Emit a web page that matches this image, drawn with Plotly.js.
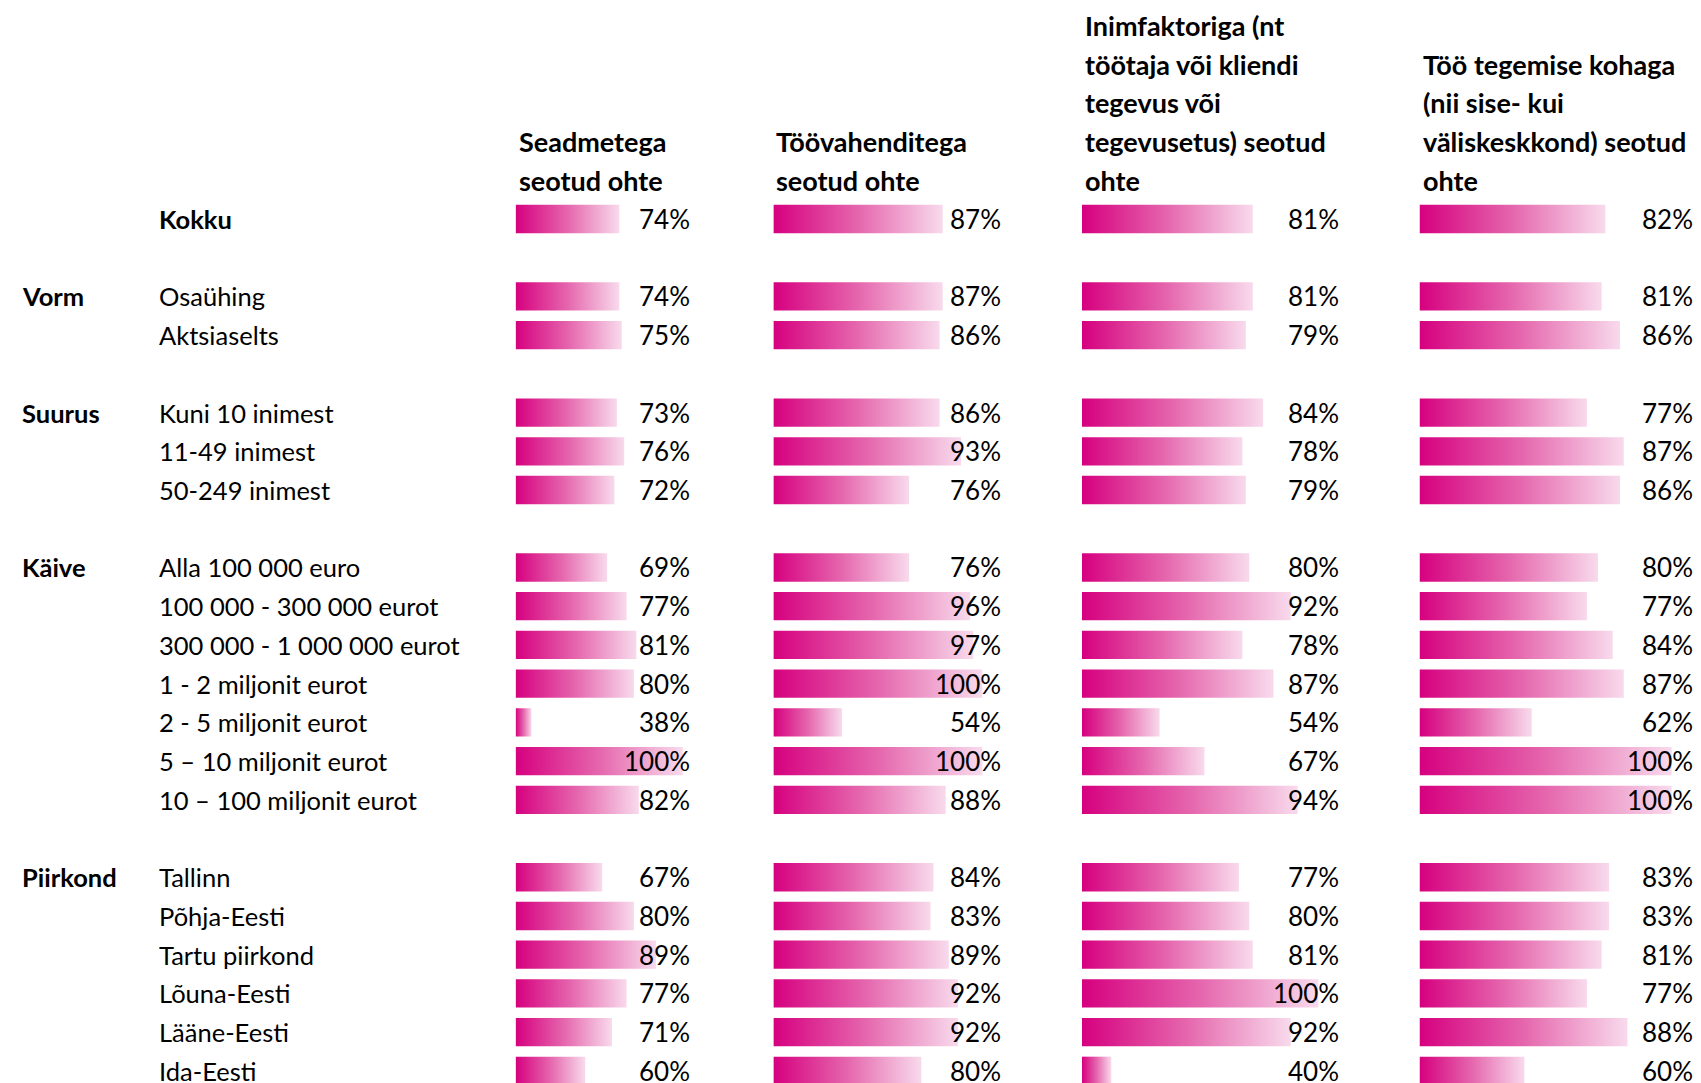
<!DOCTYPE html>
<html>
<head>
<meta charset="utf-8">
<script src="https://cdn.plot.ly/plotly-3.0.1.min.js"></script>
<style>
html,body{margin:0;padding:0;background:#ffffff;}
#chart{width:1701px;height:1083px;}
</style>
</head>
<body>
<div id="chart"></div>
<script>
// ---------------- data ----------------
const groupNames = ['', 'Vorm', 'Suurus', 'Käive', 'Piirkond'];
const groupSizes = [1, 2, 3, 7, 6];
const categories = [
  'Kokku',
  'Osaühing', 'Aktsiaselts',
  'Kuni 10 inimest', '11-49 inimest', '50-249 inimest',
  'Alla 100 000 euro', '100 000 - 300 000 eurot', '300 000 - 1 000 000 eurot',
  '1 - 2 miljonit eurot', '2 - 5 miljonit eurot', '5 – 10 miljonit eurot', '10 – 100 miljonit eurot',
  'Tallinn', 'Põhja-Eesti', 'Tartu piirkond', 'Lõuna-Eesti', 'Lääne-Eesti', 'Ida-Eesti'
];
const seadmetega     = [74, 74, 75, 73, 76, 72, 69, 77, 81, 80, 38, 100, 82, 67, 80, 89, 77, 71, 60];
const toovahenditega = [87, 87, 86, 86, 93, 76, 76, 96, 97, 100, 54, 100, 88, 84, 83, 89, 92, 92, 80];
const inimfaktoriga  = [81, 81, 79, 84, 78, 79, 80, 92, 78, 87, 54, 67, 94, 77, 80, 81, 100, 92, 40];
const tookohaga      = [82, 81, 86, 77, 87, 86, 80, 77, 84, 87, 62, 100, 100, 83, 83, 81, 77, 88, 60];
const headers = [
  'Seadmetega<br>seotud ohte',
  'Töövahenditega<br>seotud ohte',
  'Inimfaktoriga (nt<br>töötaja või kliendi<br>tegevus või<br>tegevusetus) seotud<br>ohte',
  'Töö tegemise kohaga<br>(nii sise- kui<br>väliskeskkond) seotud<br>ohte'
];

// ---------------- layout constants ----------------
const W = 1701, H = 1083;
const ROW0_PX = 219, ROW_PX = 38.72;
const BASE = 31.5, XMAX = 108;
const colStartPx = [515.6, 773.4, 1082, 1419.5];
const colSlope   = [2.44, 3.05, 3.45, 3.68];
const pctRightPx = [692, 1003, 1341, 1695];
const headerOffsetPx = 1;
const groupLabelPx = 19.5, catLabelPx = 157;
const BAR_HALF = 0.366;
const FONT = 'Lato, "Open Sans", sans-serif';
const FS = 25.5, FS_PCT = 26, FS_HEAD = 27;
const gradient = [[0, '#D6007F'], [0.5, '#E566AD'], [1, '#F8DAEC']];

const series = [seadmetega, toovahenditega, inimfaktoriga, tookohaga];

// row positions: one blank row between groups
const rowPos = [];
const groupRow = [];
let r = 0;
groupSizes.forEach(n => {
  groupRow.push(r);
  for (let k = 0; k < n; k++) { rowPos.push(r); r++; }
  r++;
});

const traces = [];
const annotations = [];
const layout = {
  width: W, height: H,
  margin: {l: 0, r: 0, t: 0, b: 0, pad: 0},
  paper_bgcolor: '#ffffff', plot_bgcolor: '#ffffff',
  showlegend: false,
  font: {family: FONT, size: FS, color: '#000000'},
  yaxis: {range: [(H - ROW0_PX) / ROW_PX, -ROW0_PX / ROW_PX], domain: [0, 1], visible: false, fixedrange: true}
};

series.forEach((vals, c) => {
  const axName = c === 0 ? 'xaxis' : 'xaxis' + (c + 1);
  const xa = c === 0 ? 'x' : 'x' + (c + 1);
  const d0 = colStartPx[c] / W;
  const d1 = (colStartPx[c] + colSlope[c] * (XMAX - BASE)) / W;
  const top = Math.min(d1, 1);
  const xmax = BASE + (top * W - colStartPx[c]) / colSlope[c];
  layout[axName] = {domain: [d0, top], range: [BASE, xmax], visible: false, anchor: 'y', fixedrange: true};

  vals.forEach((v, i) => {
    const y0 = rowPos[i] - BAR_HALF, y1 = rowPos[i] + BAR_HALF;
    traces.push({
      type: 'scatter', xaxis: xa, yaxis: 'y',
      x: [BASE, v, v, BASE, BASE],
      y: [y0, y0, y1, y1, y0],
      mode: 'none', fill: 'toself',
      fillcolor: '#E566AD',
      fillgradient: {type: 'horizontal', colorscale: gradient},
      hoverinfo: 'skip', showlegend: false
    });
    annotations.push({
      xref: 'paper', yref: 'y', x: pctRightPx[c] / W, y: rowPos[i],
      xanchor: 'right', yanchor: 'middle', showarrow: false,
      text: v + '%', font: {family: FONT, size: FS_PCT, color: '#000000'}
    });
  });

  // header lines, bottom aligned above first row
  const lines = headers[c].split('<br>');
  lines.forEach((ln, j) => {
    annotations.push({
      xref: 'paper', yref: 'y', x: (colStartPx[c] + headerOffsetPx) / W, y: -(lines.length - j),
      xanchor: 'left', yanchor: 'middle', showarrow: false,
      text: '<b>' + ln + '</b>', font: {family: FONT, size: FS_HEAD, color: '#000000'}
    });
  });
});

categories.forEach((cat, i) => {
  annotations.push({
    xref: 'paper', yref: 'y', x: catLabelPx / W, y: rowPos[i],
    xanchor: 'left', yanchor: 'middle', showarrow: false,
    text: i === 0 ? '<b>' + cat + '</b>' : cat,
    font: {family: FONT, size: FS, color: '#000000'}
  });
});

groupNames.forEach((g, gi) => {
  if (!g) return;
  annotations.push({
    xref: 'paper', yref: 'y', x: groupLabelPx / W, y: groupRow[gi],
    xanchor: 'left', yanchor: 'middle', showarrow: false,
    text: '<b>' + g + '</b>', font: {family: FONT, size: FS, color: '#000000'}
  });
});

layout.annotations = annotations;

Plotly.newPlot('chart', traces, layout, {staticPlot: true, displayModeBar: false});
</script>
</body>
</html>
